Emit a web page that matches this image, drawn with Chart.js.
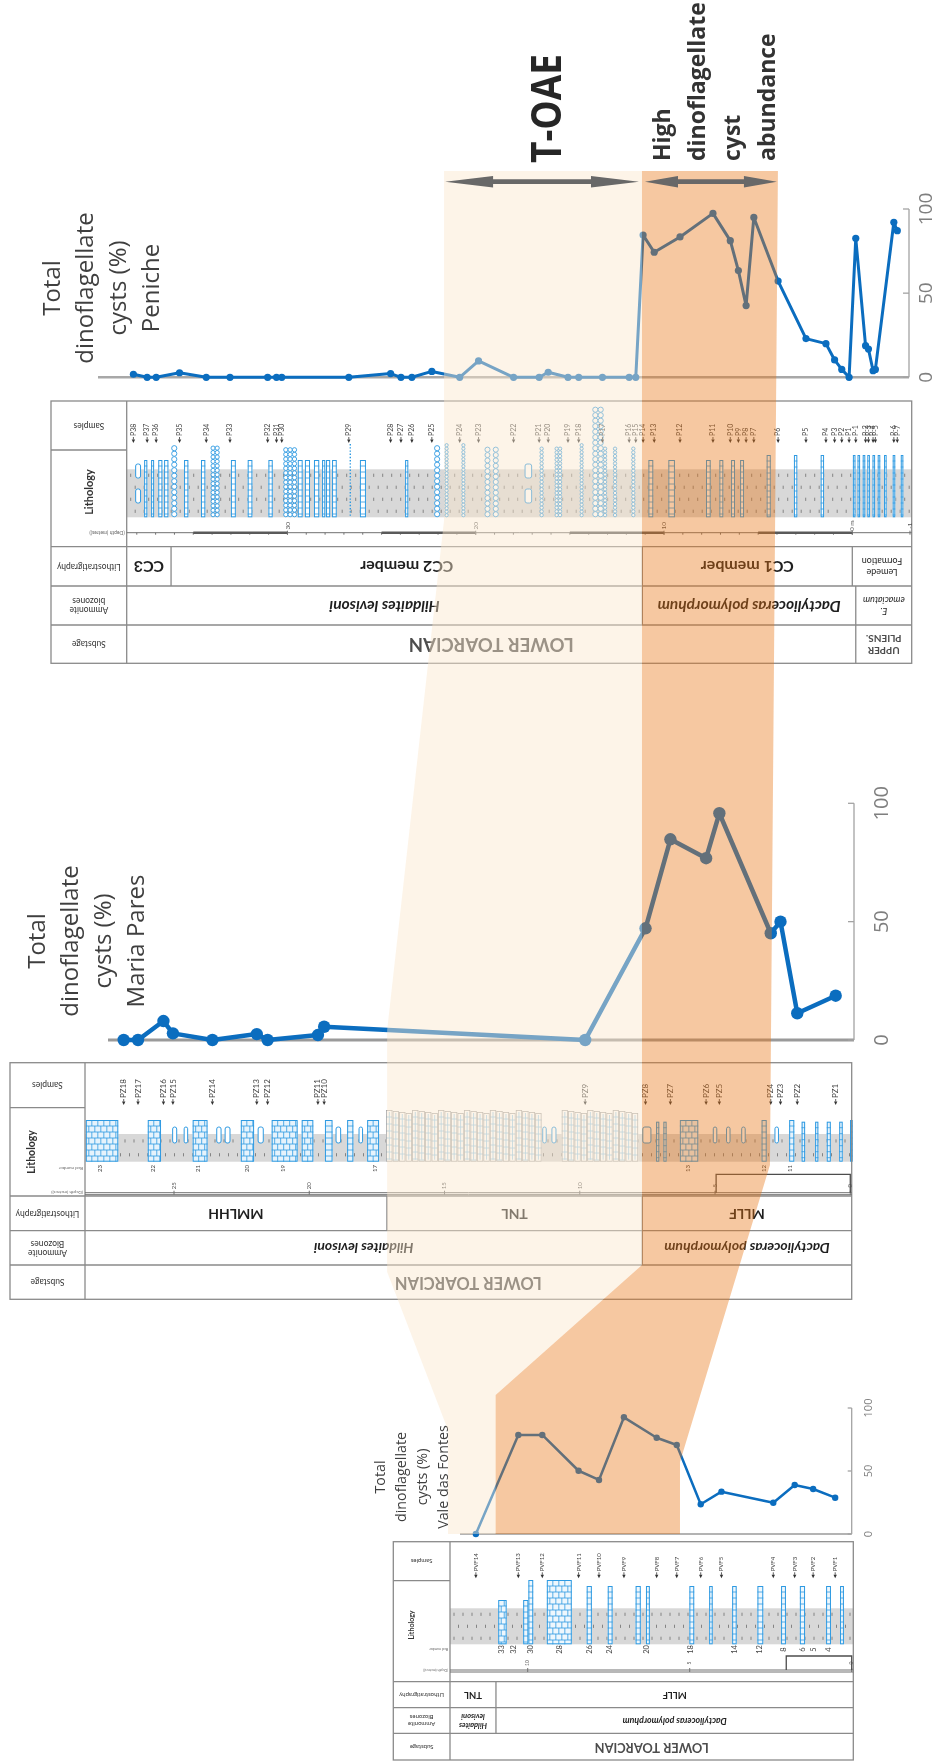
<!DOCTYPE html>
<html lang="en">
<head>
<meta charset="utf-8">
<title>Total dinoflagellate cysts – Peniche, Maria Pares, Vale das Fontes</title>
<script src="https://cdn.jsdelivr.net/npm/chart.js@4.4.1/dist/chart.umd.min.js"></script>
<style>
  html, body { margin: 0; padding: 0; background: #ffffff; }
  #figure { position: relative; width: 936px; height: 1762px; overflow: hidden; }
  #figure canvas { position: absolute; left: 0; top: 0; }
</style>
</head>
<body>
<div id="figure">
  <canvas id="penicheChart" width="936" height="1762"></canvas>
  <canvas id="mariaChart" width="936" height="1762"></canvas>
  <canvas id="valeChart" width="936" height="1762"></canvas>
</div>
<script>
// ================= data =================
// Heights are metres above the base of the Toarcian; negative = Upper Pliensbachian.
const yTicks = [0, 50, 100];

// ---- Peniche ----
const penicheSamples = ['P38','P37','P36','P35','P34','P33','P32','P31','P30','P29','P28','P27','P26','P25','P24','P23','P22','P21','P20','P19','P18','P17','P16','P15','P14','P13','P12','P11','P10','P9','P8','P7','P6','P5','P4','P3','P2','P1','P-1','P-2','P-3','P-4','P-5','P-6','P-7'];
const penicheHeight = [38.18,37.45,36.97,35.73,34.31,33.05,31.05,30.58,30.30,26.74,24.52,23.97,23.39,22.33,20.85,19.85,17.99,16.63,16.15,15.10,14.53,13.27,11.85,11.50,11.11,10.52,9.15,7.40,6.48,6.05,5.64,5.23,3.94,2.46,1.40,0.94,0.56,0.17,-0.06,-0.23,-0.28,-0.36,-0.40,-0.72,-0.78];
const penicheDino = [1.8,0,0,2.7,0,0,0,0,0,0,2.2,0,0,3.5,0,9.7,0,0,3.0,0,0,0,0,0,84.5,74.3,83.4,97.4,81.2,63.4,42.6,95.0,57.2,23.0,20.0,10.3,4.7,0,82.6,18.8,16.8,3.9,4.7,92.1,87.1];
const penicheDepthTicks = [30, 20, 10, 0, -1];
const penicheDepthLabels = ['30', '20', '10', '0 m', '-1'];
const penicheBeds = [
  [38.06,37.80,'lens'],[37.61,37.44,'lst'],[37.24,37.08,'lst'],[36.86,36.64,'lst'],[36.55,36.32,'lst'],
  [36.19,35.83,'nod'],[35.49,35.26,'lst'],[34.59,34.36,'lst'],[34.06,33.62,'nod'],[33.00,32.74,'lst'],
  [32.11,31.86,'lst'],[31.01,30.78,'lst'],[30.20,29.51,'nod'],[29.45,29.19,'lst'],[29.07,28.80,'lst'],
  [28.59,28.31,'lst'],[28.16,27.99,'lst'],[27.95,27.73,'lst'],[27.63,27.38,'lst'],[26.73,26.60,'dot'],
  [26.15,25.83,'lst'],[23.75,23.58,'lst'],[22.20,21.90,'nod'],[21.63,21.46,'nod'],[20.74,20.57,'nod'],
  [19.51,19.24,'nod'],[19.07,18.80,'nod'],[17.38,17.03,'lens'],[16.59,16.41,'nod'],[15.79,15.61,'nod'],
  [15.61,15.43,'nod'],[14.46,14.29,'nod'],[13.79,13.22,'nodTall'],[13.22,13.04,'nod'],[12.69,12.51,'nod'],
  [11.72,11.54,'nod'],[10.83,10.57,'lst'],[9.77,9.42,'lst'],[7.77,7.52,'lst'],[7.06,6.85,'lst'],
  [6.44,6.23,'lst'],[5.96,5.75,'lst'],[4.55,4.33,'lstThin'],[3.10,2.92,'lstThin'],[1.68,1.50,'lstThin'],
  [-0.01,-0.04,'lstHigh'],[-0.09,-0.12,'lstHigh'],[-0.18,-0.21,'lstHigh'],[-0.26,-0.29,'lstHigh'],[-0.35,-0.38,'lstHigh'],
  [-0.44,-0.47,'lstHigh'],[-0.55,-0.58,'lstHigh'],[-0.70,-0.73,'lstHigh'],[-0.84,-0.87,'lstHigh']
];
const penicheLithostrat = [['CC3', null, 36.18], ['CC2 member', 36.18, 11.15], ['CC1 member', 11.15, 0], ['Lemede\nFormation', 0, null]];
const penicheBiozones = [['Hildaites levisoni', null, 11.15], ['Dactylioceras polymorphum', 11.15, -0.06], ['E.\nemaciatum', -0.06, null]];
const penicheSubstages = [['LOWER TOARCIAN', null, -0.06], ['UPPER\nPLIENS.', -0.06, null]];

// ---- Maria Pares ----
const mariaSamples = ['PZ18','PZ17','PZ16','PZ15','PZ14','PZ13','PZ12','PZ11','PZ10','PZ9','PZ8','PZ7','PZ6','PZ5','PZ4','PZ3','PZ2','PZ1'];
const mariaHeight = [26.86,26.33,25.39,25.04,23.58,21.94,21.54,19.68,19.45,9.80,7.57,6.65,5.33,4.84,2.94,2.58,1.96,0.54];
const mariaDino = [0,0,8.0,2.8,0,2.5,0,2.1,5.6,0,47.2,84.8,76.8,95.8,45.1,50.0,11.3,18.7];
const mariaDepthTicks = [25, 20, 15, 10, 5, 0];
const mariaBracket = [4.96, 0];
const mariaBedNumbers = [['23',27.74],['22',25.77],['21',24.10],['20',22.29],['19',20.96],['17',17.57],['13',6.01],['12',3.19],['11',2.23]];
const mariaBeds = [
  [28.26,27.06,'lst'],[25.97,25.48,'lst'],[25.05,24.90,'lens'],[24.62,24.50,'lens'],[24.31,23.76,'lst'],
  [23.42,23.26,'lens'],[23.11,22.93,'lens'],[22.53,22.04,'lst'],[21.89,21.70,'lens'],[21.39,20.43,'lst'],
  [20.28,19.85,'lst'],[19.42,19.14,'lst'],[19.01,18.84,'lens'],[18.60,18.37,'lst'],[18.16,18.03,'lens'],
  [17.86,17.42,'lst'],[17.16,11.41,'pale'],[11.36,11.25,'lens'],[11.03,10.88,'lens'],[10.67,7.84,'pale'],
  [7.67,7.37,'lens'],[7.18,7.06,'lstThin'],[6.91,6.79,'lstThin'],[6.30,5.62,'lst'],[5.06,4.94,'lens'],
  [4.57,4.45,'lens'],[4.01,3.89,'lens'],[3.28,3.09,'lst'],[2.78,2.66,'lens'],[2.26,2.07,'lst'],
  [1.80,1.67,'lstThin'],[1.30,1.18,'lstThin'],[0.87,0.72,'lstThin'],[0.41,0.28,'lstThin'],[0.01,-0.09,'lst']
];
const mariaLithostrat = [['MMLHH', null, 17.13], ['TNL', 17.13, 7.69], ['MLLF', 7.69, null]];
const mariaBiozones = [['Hildaites levisoni', null, 7.69], ['Dactylioceras polymorphum', 7.69, null]];
const mariaSubstages = [['LOWER TOARCIAN', null, null]];

// ---- Vale das Fontes ----
const valeSamples = ['PVF14','PVF13','PVF12','PVF11','PVF10','PVF9','PVF8','PVF7','PVF6','PVF5','PVF4','PVF3','PVF2','PVF1'];
const valeHeight = [11.60,10.29,9.55,8.43,7.80,7.03,6.02,5.40,4.66,4.02,2.42,1.76,1.19,0.51];
const valeDino = [0,78.6,78.6,50.2,42.9,92.6,76.4,70.6,23.6,33.6,24.8,38.9,35.7,28.8];
const valeDepthTicks = [10, 5, 0];
const valeBracket = [2.02, 0];
const valeBedNumbers = [['33',10.80],['32',10.44],['30',9.91],['28',9.02],['26',8.10],['24',7.46],['20',6.33],['18',4.96],['14',3.63],['12',2.83],['8',2.11],['6',1.52],['5',1.19],['4',0.72]];
const valeBeds = [
  [10.91,10.65,'lstLow'],[10.14,9.98,'lstLow'],[9.98,9.83,'lstTall'],[9.41,8.64,'lstTall'],[8.18,8.02,'lst'],
  [7.53,7.38,'lst'],[6.67,6.51,'lst'],[6.35,6.23,'lst'],[5.01,4.86,'lst'],[4.40,4.29,'lst'],
  [3.69,3.55,'lst'],[2.91,2.73,'lst'],[2.18,2.03,'lst'],[1.60,1.44,'lst'],[0.79,0.64,'lst'],[0.36,0.24,'lst']
];
const valeLithostrat = [['TNL', null, 10.98], ['MLLF', 10.98, null]];
const valeBiozones = [['Hildaites\nlevisoni', null, 10.98], ['Dactylioceras polymorphum', 10.98, null]];
const valeSubstages = [['LOWER TOARCIAN', null, null]];

// ---- correlated intervals (m in each section) ----
const toaeUpper = { peniche: 21.68, maria: 17.12, vale: 12.46 };
const toaeLower = { peniche: 11.17, maria: 7.70, vale: 10.99 };
const abundanceLower = { peniche: 3.95, maria: 2.97, vale: 5.30 };

// ================= drawing helpers =================
const BLUE = '#0b6dbf';
const BED_BLUE = '#2e9ae2';

function seg(ctx, x0, y0, x1, y1) { ctx.beginPath(); ctx.moveTo(x0, y0); ctx.lineTo(x1, y1); ctx.stroke(); }

function textAt(ctx, str, x, y, o) {
  const lines = String(str).split('\n');
  ctx.save();
  ctx.translate(x, y);
  if (o.rot) ctx.rotate(o.rot);
  if (o.sx) ctx.scale(o.sx, 1);
  ctx.font = o.font;
  ctx.fillStyle = o.color || '#222';
  ctx.textAlign = o.align || 'center';
  ctx.textBaseline = o.baseline || 'middle';
  const lh = o.lh || 0, n = lines.length;
  lines.forEach((ln, i) => ctx.fillText(ln, 0, (i - (n - 1) / 2) * lh));
  ctx.restore();
}

function drawMarl(ctx, x0, x1, y0, y1) {
  ctx.fillStyle = '#d8d8d8';
  ctx.fillRect(x0, y0, x1 - x0, y1 - y0);
  ctx.strokeStyle = '#7a7a7a';
  ctx.lineWidth = 0.9;
  const rows = Math.max(2, Math.round((y1 - y0) / 13));
  for (let r = 0; r < rows; r++) {
    const y = y0 + (y1 - y0) * (r + 0.5) / rows;
    for (let x = x0 + 4 + (r % 2) * 4.5; x < x1 - 2; x += 9) seg(ctx, x, y - 1.6, x, y + 1.6);
  }
}

function drawBrick(ctx, x, w, top, bottom, stroke, fill) {
  ctx.fillStyle = fill;
  ctx.fillRect(x, top, w, bottom - top);
  ctx.strokeStyle = stroke;
  ctx.lineWidth = 0.8;
  const step = 6;
  let row = 0;
  for (let y = top + step; y < bottom - 1; y += step) seg(ctx, x, y, x + w, y);
  if (w >= 8) {
    for (let y = top; y < bottom - 1; y += step, row++) {
      for (let jx = x + (row % 2 ? 3 : 6); jx < x + w - 1; jx += 6) seg(ctx, jx, y, jx, Math.min(y + step, bottom));
    }
  }
  ctx.lineWidth = 1;
  ctx.strokeRect(x + 0.5, top + 0.5, Math.max(1, w - 1), bottom - top - 1);
}

function drawNodular(ctx, x, w, top, bottom, stroke) {
  const cols = Math.max(1, Math.round(w / 5));
  const cw = w / cols, r = Math.min(2.6, cw / 2);
  ctx.strokeStyle = stroke;
  ctx.fillStyle = '#ffffff';
  ctx.lineWidth = 0.9;
  for (let c = 0; c < cols; c++) {
    const cx = x + cw * (c + 0.5);
    for (let y = bottom - r - 0.5; y > top + r - 0.5; y -= 2 * r + 0.3) {
      ctx.beginPath(); ctx.arc(cx, y, r, 0, Math.PI * 2); ctx.fill(); ctx.stroke();
    }
  }
}

function drawLens(ctx, x, w, spans, stroke) {
  ctx.strokeStyle = stroke;
  ctx.fillStyle = '#ffffff';
  ctx.lineWidth = 1;
  const ww = Math.max(w, 3.5);
  spans.forEach(([y0, y1]) => {
    ctx.beginPath(); ctx.roundRect(x + (w - ww) / 2, y0, ww, y1 - y0, 2); ctx.fill(); ctx.stroke();
  });
}

function drawPale(ctx, x0, x1, top, bottom) {
  const n = Math.max(1, Math.round((x1 - x0) / 6.4));
  const cw = (x1 - x0) / n;
  for (let i = 0; i < n; i++) {
    const x = x0 + i * cw, t = top + ((i * 5) % 4);
    ctx.fillStyle = '#ffffff';
    ctx.fillRect(x, t, cw, bottom - t);
    ctx.strokeStyle = '#8fc6ea';
    ctx.lineWidth = 0.8;
    for (let y = t + 7; y < bottom - 1; y += 7) seg(ctx, x, y, x + cw, y);
    seg(ctx, x + cw / 2, t + 2, x + cw / 2, bottom - 2);
    ctx.strokeStyle = '#a7a7a7';
    ctx.strokeRect(x + 0.5, t + 0.5, cw - 1, bottom - t - 1);
  }
}

// ================= section drawing =================
function sectionPlugin(L, D) {
  return {
    id: 'section_' + L.key,
    beforeDatasetsDraw(chart) {
      const ctx = chart.ctx, xs = chart.scales.x, ys = chart.scales.y, ca = chart.chartArea;
      const px = h => xs.getPixelForValue(h < 0 ? h * L.exag : h);
      const T = L.table, G = L.log;
      ctx.save();

      // ---- rotated title ----
      L.title.lines.forEach((ln, i) => textAt(ctx, ln, L.title.baselines[i], L.title.cy,
        { rot: -Math.PI / 2, font: L.title.font, color: '#3f3f3f', baseline: 'alphabetic' }));

      // ---- zero line and value axis ----
      const y0 = ys.getPixelForValue(0);
      ctx.strokeStyle = L.axis.baseColor; ctx.lineWidth = L.axis.baseWidth;
      seg(ctx, ca.left, y0, ca.right, y0);
      ctx.strokeStyle = '#a3a3a3'; ctx.lineWidth = 1.3;
      seg(ctx, ca.right, ys.getPixelForValue(100), ca.right, y0);
      yTicks.forEach(v => {
        const y = ys.getPixelForValue(v);
        seg(ctx, ca.right - L.axis.tick, y, ca.right, y);
        textAt(ctx, String(v), ca.right + L.axis.labelDx, y, { rot: -Math.PI / 2, font: L.axis.font, color: '#7f7f7f' });
      });

      // ---- lithological log ----
      drawMarl(ctx, T.head, T.right, G.bandTop, G.bandBottom);
      D.beds.forEach(([hTop, hBase, kind]) => {
        const xa = px(hTop), xb = px(hBase);
        const x = Math.min(xa, xb), w = Math.max(2.6, Math.abs(xb - xa));
        if (kind === 'lens') drawLens(ctx, x, w, G.lens, BED_BLUE);
        else if (kind === 'nod' || kind === 'nodTall') drawNodular(ctx, x, w, G.tops[kind], G.bandBottom, BED_BLUE);
        else if (kind === 'dot') {
          ctx.strokeStyle = BED_BLUE; ctx.lineWidth = 1.4; ctx.setLineDash([1.4, 1.8]);
          seg(ctx, x + w / 2, G.tops.dot, x + w / 2, G.bandBottom); ctx.setLineDash([]);
        }
        else if (kind === 'pale') drawPale(ctx, x, x + w, G.tops.pale, G.bandBottom);
        else drawBrick(ctx, x, w, G.tops[kind], G.bandBottom, BED_BLUE, L.bedFill);
      });

      // ---- table frame ----
      ctx.strokeStyle = '#8a8a8a'; ctx.lineWidth = 1.3;
      ctx.strokeRect(T.left, T.top, T.right - T.left, T.bottom - T.top);
      seg(ctx, T.head, T.top, T.head, T.bottom);
      seg(ctx, T.left, T.samples, T.head, T.samples);
      [T.litho, T.strat, T.amm].forEach(y => seg(ctx, T.left, y, T.right, y));

      // header column (printed upside down)
      const hx = (T.left + T.head) / 2;
      textAt(ctx, 'Samples', hx, (T.top + T.samples) / 2, { rot: Math.PI, font: L.fonts.head, color: '#333' });
      textAt(ctx, 'Lithostratigraphy', hx, (T.litho + T.strat) / 2, { rot: Math.PI, font: L.fonts.head, color: '#333' });
      textAt(ctx, L.ammHeader, hx, (T.strat + T.amm) / 2, { rot: Math.PI, font: L.fonts.head, color: '#333', lh: L.fonts.headLh });
      textAt(ctx, 'Substage', hx, (T.amm + T.bottom) / 2, { rot: Math.PI, font: L.fonts.head, color: '#333' });
      textAt(ctx, 'Lithology', L.lithoLabel[0], L.lithoLabel[1], { rot: -Math.PI / 2, font: L.fonts.lithology, color: '#333' });
      textAt(ctx, '(Depth (metres))', T.head - 2, G.depthY, { rot: Math.PI, font: L.fonts.tiny, color: '#666', align: 'left' });
      if (G.bedNumY) textAt(ctx, 'Bed number', T.head - 2, G.bedNumY, { rot: Math.PI, font: L.fonts.tiny, color: '#666', align: 'left' });

      // unit rows
      const rows = [
        [D.lithostrat, T.litho, T.strat, L.fonts.strat, L.fonts.stratSmall],
        [D.biozones, T.strat, T.amm, L.fonts.amm, L.fonts.ammSmall],
        [D.substages, T.amm, T.bottom, L.fonts.sub, L.fonts.subSmall]
      ];
      rows.forEach(([units, ya, yb, font, small]) => {
        units.forEach(([label, hTop, hBase], i) => {
          const xa = hTop === null ? T.head : px(hTop);
          const xb = hBase === null ? T.right : px(hBase);
          if (i > 0) { ctx.strokeStyle = '#8a8a8a'; ctx.lineWidth = 1.3; seg(ctx, xa, ya, xa, yb); }
          const multi = label.includes('\n');
          textAt(ctx, label, (xa + xb) / 2, (ya + yb) / 2, {
            rot: Math.PI, font: multi ? small.font : font, lh: multi ? small.lh : 0,
            color: font === L.fonts.sub ? '#4d4d4d' : '#1f1f1f'
          });
        });
      });

      // ---- samples ----
      D.samples.forEach((name, i) => {
        const x = px(D.heights[i]);
        ctx.fillStyle = '#333'; ctx.strokeStyle = '#333'; ctx.lineWidth = 0.8;
        ctx.beginPath(); ctx.moveTo(x - 1.7, G.arrowY - 3.5); ctx.lineTo(x + 1.7, G.arrowY - 3.5); ctx.lineTo(x, G.arrowY); ctx.closePath(); ctx.fill();
        seg(ctx, x, G.arrowY - 3.5, x, G.arrowY - 6);
        textAt(ctx, name, x, G.arrowY - 7, { rot: -Math.PI / 2, align: 'left', font: L.fonts.sample, color: '#444' });
      });

      // ---- depth scale ----
      ctx.strokeStyle = '#707070'; ctx.lineWidth = 1;
      seg(ctx, T.head, G.depthY, T.right, G.depthY);
      if (L.depthStyle === 'metric') {
        const hMax = xs.getValueForPixel(T.head);
        for (let m = 0; m <= hMax; m++) seg(ctx, px(m), G.depthY, px(m), G.depthY + 2);
        ctx.lineWidth = 2.6; ctx.strokeStyle = '#5a5a5a';
        for (let m = 0; m + 5 <= hMax; m += 10) seg(ctx, px(m), G.depthY, px(m + 5), G.depthY);
      } else {
        ctx.lineWidth = 1; seg(ctx, T.head, G.depthY + 2, T.right, G.depthY + 2);
      }
      ctx.strokeStyle = '#707070'; ctx.lineWidth = 1;
      D.depthTicks.forEach((m, i) => {
        const x = px(m);
        seg(ctx, x, G.depthY - 2, x, G.depthY + 2);
        textAt(ctx, D.depthLabels ? D.depthLabels[i] : String(m), x, G.depthY - 7,
          { rot: -Math.PI / 2, font: L.fonts.depth, color: '#555' });
      });
      if (D.bracket) {
        const xa = px(D.bracket[0]), xb = px(D.bracket[1]);
        ctx.strokeStyle = '#4d4d4d'; ctx.lineWidth = 1.3;
        ctx.beginPath(); ctx.moveTo(xa, G.depthY); ctx.lineTo(xa, G.bracketY); ctx.lineTo(xb, G.bracketY); ctx.lineTo(xb, G.depthY); ctx.stroke();
      }
      if (D.bedNumbers) {
        D.bedNumbers.forEach(([lab, h]) => textAt(ctx, lab, px(h), G.bedNumY, { rot: -Math.PI / 2, font: L.fonts.bed, color: '#444' }));
      }
      ctx.restore();
    }
  };
}

// ---- correlation bands, arrows and headings (drawn over everything) ----
let penicheChart, mariaChart;
function correlationPlugin() {
  return {
    id: 'correlation',
    afterDraw(chart) {
      const ctx = chart.ctx;
      const scales = { peniche: penicheChart.scales.x, maria: mariaChart.scales.x, vale: chart.scales.x };
      const pt = ([key, levels, y]) => [scales[key].getPixelForValue(levels[key]), y];
      const lightLeft = [['peniche', toaeUpper, 171], ['peniche', toaeUpper, 520], ['maria', toaeUpper, 1030],
        ['maria', toaeUpper, 1272], ['vale', toaeUpper, 1430], ['vale', toaeUpper, 1534]].map(pt);
      const middle = [['peniche', toaeLower, 171], ['maria', toaeLower, 1265], ['vale', toaeLower, 1395],
        ['vale', toaeLower, 1534]].map(pt);
      const darkRight = [['peniche', abundanceLower, 171], ['maria', abundanceLower, 1165],
        ['vale', abundanceLower, 1462], ['vale', abundanceLower, 1534]].map(pt);
      const poly = (pts, color) => {
        ctx.beginPath(); pts.forEach(([x, y], i) => i ? ctx.lineTo(x, y) : ctx.moveTo(x, y));
        ctx.closePath(); ctx.fillStyle = color; ctx.fill();
      };
      ctx.save();
      poly(lightLeft.concat(middle.slice().reverse()), 'rgba(250,230,203,0.45)');
      poly(middle.concat(darkRight.slice().reverse()), 'rgba(232,118,20,0.40)');

      // double-headed arrows
      const ps = scales.peniche;
      const arrow = (xa, xb, y, head) => {
        ctx.fillStyle = '#686868';
        ctx.beginPath();
        ctx.moveTo(xa, y);
        ctx.lineTo(xa + head, y - 5.8); ctx.lineTo(xa + head, y - 2.4);
        ctx.lineTo(xb - head, y - 2.4); ctx.lineTo(xb - head, y - 5.8);
        ctx.lineTo(xb, y);
        ctx.lineTo(xb - head, y + 5.8); ctx.lineTo(xb - head, y + 2.4);
        ctx.lineTo(xa + head, y + 2.4); ctx.lineTo(xa + head, y + 5.8);
        ctx.closePath(); ctx.fill();
      };
      const xT0 = ps.getPixelForValue(toaeUpper.peniche), xT1 = ps.getPixelForValue(toaeLower.peniche);
      const xH1 = ps.getPixelForValue(abundanceLower.peniche);
      arrow(xT0 + 1, xT1 - 3, 181.7, 48);
      arrow(xT1 + 3, xH1 - 1, 181.7, 33);

      textAt(ctx, 'T-OAE', 561, 163, { rot: -Math.PI / 2, sx: 0.88, align: 'left', baseline: 'alphabetic',
        font: 'bold 42px "Open Sans"', color: '#262626' });
      ['High', 'dinoflagellate', 'cyst', 'abundance'].forEach((ln, i) =>
        textAt(ctx, ln, 670 + i * 35, 161, { rot: -Math.PI / 2, align: 'left', baseline: 'alphabetic',
          font: 'bold 23px "Open Sans"', color: '#333333' }));
      ctx.restore();
    }
  };
}

// ================= layouts =================
const layouts = {
  peniche: {
    key: 'peniche', exag: 3.064, xMin: -3.011, xMax: 40.06,
    pad: { left: 98, right: 27, top: 209, bottom: 1384.7 },
    line: { width: 3, radius: 3.6 },
    axis: { baseColor: '#a8a8a8', baseWidth: 2.5, tick: 6, labelDx: 17.5, font: '19px "Open Sans"' },
    title: { lines: ['Total', 'dinoflagellate', 'cysts (%)', 'Peniche'], baselines: [60, 93, 126, 159], cy: 288, font: '24px "Open Sans"' },
    table: { left: 51, head: 126.7, right: 911.7, top: 401, samples: 450, litho: 546.7, strat: 586, amm: 625, bottom: 663.3 },
    log: { bandTop: 469.3, bandBottom: 517.3, arrowY: 443, depthY: 532.7, bedNumY: null,
      tops: { lst: 460, lstThin: 455, lstHigh: 455, nod: 444, nodTall: 407, dot: 444 }, lens: [[464, 478], [489, 503]] },
    bedFill: '#ffffff', depthStyle: 'metric', lithoLabel: [89, 492], ammHeader: 'Ammonite\nbiozones',
    fonts: { head: '8.5px Lato', headLh: 9, lithology: 'bold 11px Lato', tiny: '5px Lato', sample: '7px Lato', depth: '6.5px Lato', bed: '6px Lato',
      strat: 'bold 16px Lato', stratSmall: { font: '9px Lato', lh: 11 },
      amm: 'italic bold 15.5px Lato', ammSmall: { font: 'italic 9px Lato', lh: 11 },
      sub: 'bold 18.5px Lato', subSmall: { font: 'bold 10px Lato', lh: 12 } }
  },
  maria: {
    key: 'maria', exag: 1, xMin: -0.137, xMax: 27.44,
    pad: { left: 108, right: 82, top: 803.3, bottom: 722 },
    line: { width: 4.5, radius: 6.2 },
    axis: { baseColor: '#9a9a9a', baseWidth: 3, tick: 6, labelDx: 28, font: '20px "Open Sans"' },
    title: { lines: ['Total', 'dinoflagellate', 'cysts (%)', 'Maria Pares'], baselines: [45, 78, 111, 144], cy: 941, font: '24px "Open Sans"' },
    table: { left: 10, head: 85, right: 851.7, top: 1062.7, samples: 1107.7, litho: 1196, strat: 1230.7, amm: 1265, bottom: 1299.3 },
    log: { bandTop: 1134, bandBottom: 1161.7, arrowY: 1105, depthY: 1192.7, bedNumY: 1168.5, bracketY: 1174.3,
      tops: { lst: 1120, lstThin: 1121.7, pale: 1110 }, lens: [[1127, 1143]] },
    bedFill: '#e6f3fc', depthStyle: 'double', lithoLabel: [32, 1152], ammHeader: 'Ammonite\nBiozones',
    fonts: { head: '8.5px Lato', headLh: 9, lithology: 'bold 10.5px Lato', tiny: '4.5px Lato', sample: '8px Lato', depth: '6px Lato', bed: '6px Lato',
      strat: 'bold 14px Lato', stratSmall: { font: '8px Lato', lh: 10 },
      amm: 'italic bold 14px Lato', ammSmall: { font: 'italic 8px Lato', lh: 10 },
      sub: 'bold 16.5px Lato', subSmall: { font: 'bold 9px Lato', lh: 11 } }
  },
  vale: {
    key: 'vale', exag: 1, xMin: 0, xMax: 12.09,
    pad: { left: 460, right: 84.3, top: 1408, bottom: 228 },
    line: { width: 2.5, radius: 3.2 },
    axis: { baseColor: '#b3b3b3', baseWidth: 2, tick: 4, labelDx: 17, font: '11px "Open Sans"' },
    title: { lines: ['Total', 'dinoflagellate', 'cysts (%)', 'Vale das Fontes'], baselines: [385, 406, 427, 448], cy: 1477, font: '14.3px "Open Sans"' },
    table: { left: 393.3, head: 450, right: 853.3, top: 1541.7, samples: 1580.7, litho: 1681.7, strat: 1707.7, amm: 1733.3, bottom: 1760 },
    log: { bandTop: 1608.3, bandBottom: 1644.3, arrowY: 1578.3, depthY: 1670, bedNumY: 1649.5, bracketY: 1656,
      tops: { lst: 1586, lstTall: 1580, lstLow: 1600 }, lens: [[1604, 1616]] },
    bedFill: '#eef7fd', depthStyle: 'single', lithoLabel: [412, 1625], ammHeader: 'Ammonite\nBiozones',
    fonts: { head: '6px Lato', headLh: 6.5, lithology: 'bold 7px Lato', tiny: '3.5px Lato', sample: '6px Lato', depth: '5px Lato', bed: '7.5px Lato',
      strat: 'bold 9.5px Lato', stratSmall: { font: 'bold 9.5px Lato', lh: 10 },
      amm: 'italic bold 8.8px Lato', ammSmall: { font: 'italic bold 7.5px Lato', lh: 9 },
      sub: 'bold 12.8px Lato', subSmall: { font: 'bold 8px Lato', lh: 9 } }
  }
};

const sections = {
  peniche: { samples: penicheSamples, heights: penicheHeight, values: penicheDino, beds: penicheBeds,
    depthTicks: penicheDepthTicks, depthLabels: penicheDepthLabels, bracket: null, bedNumbers: null,
    lithostrat: penicheLithostrat, biozones: penicheBiozones, substages: penicheSubstages },
  maria: { samples: mariaSamples, heights: mariaHeight, values: mariaDino, beds: mariaBeds,
    depthTicks: mariaDepthTicks, depthLabels: null, bracket: mariaBracket, bedNumbers: mariaBedNumbers,
    lithostrat: mariaLithostrat, biozones: mariaBiozones, substages: mariaSubstages },
  vale: { samples: valeSamples, heights: valeHeight, values: valeDino, beds: valeBeds,
    depthTicks: valeDepthTicks, depthLabels: null, bracket: valeBracket, bedNumbers: valeBedNumbers,
    lithostrat: valeLithostrat, biozones: valeBiozones, substages: valeSubstages }
};

function makeChart(canvasId, key, extraPlugins) {
  const L = layouts[key], D = sections[key];
  const points = D.heights.map((h, i) => ({ x: h < 0 ? h * L.exag : h, y: D.values[i] }));
  return new Chart(document.getElementById(canvasId), {
    type: 'line',
    data: {
      datasets: [{
        label: 'Total dinoflagellate cysts (%)',
        data: points,
        borderColor: BLUE, backgroundColor: BLUE,
        pointBackgroundColor: BLUE, pointBorderColor: BLUE,
        borderWidth: L.line.width, pointRadius: L.line.radius, pointBorderWidth: 0,
        borderJoinStyle: 'round', tension: 0, clip: false
      }]
    },
    options: {
      responsive: false, animation: false, events: [],
      layout: { padding: L.pad },
      scales: {
        x: { type: 'linear', reverse: true, min: L.xMin, max: L.xMax, display: false },
        y: { type: 'linear', min: 0, max: 100, display: false }
      },
      plugins: { legend: { display: false }, tooltip: { enabled: false }, title: { display: false } }
    },
    plugins: [sectionPlugin(L, D)].concat(extraPlugins || [])
  });
}

penicheChart = makeChart('penicheChart', 'peniche');
mariaChart = makeChart('mariaChart', 'maria');
makeChart('valeChart', 'vale', [correlationPlugin()]);
</script>
</body>
</html>
